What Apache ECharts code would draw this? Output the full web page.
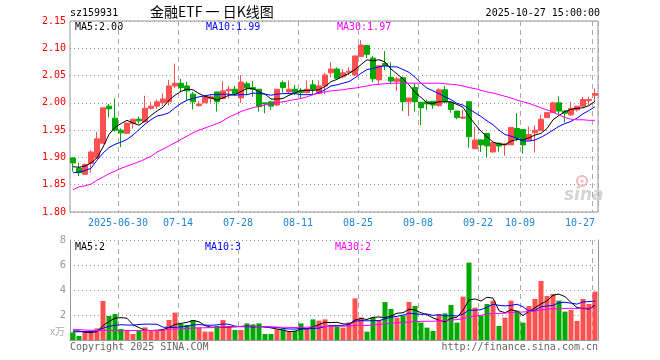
<!DOCTYPE html>
<html><head><meta charset="utf-8">
<script src="https://cdn.jsdelivr.net/npm/echarts@6/dist/echarts.min.js"></script>
<style>html,body{margin:0;padding:0;background:#fff}#c{width:660px;height:360px}</style>
</head><body><div id="c"></div>
<script>
const dates = ['2025-06-18','2025-06-19','2025-06-20','2025-06-23','2025-06-24','2025-06-25','2025-06-26','2025-06-27','2025-06-30','2025-07-01',
'2025-07-02','2025-07-03','2025-07-04','2025-07-07','2025-07-08','2025-07-09','2025-07-10','2025-07-11','2025-07-14','2025-07-15',
'2025-07-16','2025-07-17','2025-07-18','2025-07-21','2025-07-22','2025-07-23','2025-07-24','2025-07-25','2025-07-28','2025-07-29',
'2025-07-30','2025-07-31','2025-08-01','2025-08-04','2025-08-05','2025-08-06','2025-08-07','2025-08-08','2025-08-11','2025-08-12',
'2025-08-13','2025-08-14','2025-08-15','2025-08-18','2025-08-19','2025-08-20','2025-08-21','2025-08-22','2025-08-25','2025-08-26',
'2025-08-27','2025-08-28','2025-08-29','2025-09-01','2025-09-02','2025-09-03','2025-09-04','2025-09-05','2025-09-08','2025-09-09',
'2025-09-10','2025-09-11','2025-09-12','2025-09-15','2025-09-16','2025-09-17','2025-09-18','2025-09-19','2025-09-22','2025-09-23',
'2025-09-24','2025-09-25','2025-09-26','2025-09-29','2025-09-30','2025-10-09','2025-10-10','2025-10-13','2025-10-14','2025-10-15',
'2025-10-16','2025-10-17','2025-10-20','2025-10-21','2025-10-22','2025-10-23','2025-10-24','2025-10-27'];
const tickIdx = [8,18,28,38,48,58,68,75,87];
const tickText = ['2025-06-30','07-14','07-28','08-11','08-25','09-08','09-22','10-09','10-27'];

const openP = [1.899,1.880,1.869,1.889,1.899,1.926,1.994,1.972,1.950,1.944,
1.962,1.970,1.965,1.990,1.994,2.000,2.002,2.031,2.036,2.031,
2.016,1.995,2.000,2.008,2.020,2.008,2.022,2.025,2.009,2.035,
2.028,2.025,2.000,2.002,1.996,2.037,2.020,2.025,2.022,2.019,
2.033,2.017,2.031,2.055,2.062,2.048,2.056,2.051,2.085,2.105,
2.082,2.042,2.072,2.047,2.039,2.046,2.002,2.028,2.001,2.002,
2.003,1.995,2.024,2.001,1.985,1.972,2.002,1.916,1.932,1.944,
1.910,1.926,1.923,1.923,1.953,1.951,1.932,1.945,1.949,1.973,
1.982,2.000,1.985,1.978,1.987,1.994,2.004,2.014];
const closeP = [1.890,1.872,1.887,1.910,1.934,1.991,1.989,1.950,1.945,1.963,
1.970,1.967,1.990,1.994,2.002,2.007,2.031,2.036,2.028,2.022,
2.002,1.998,2.011,2.011,2.002,2.022,2.025,2.017,2.038,2.027,
2.025,1.993,1.998,1.994,2.025,2.028,2.025,2.019,2.019,2.025,
2.025,2.031,2.051,2.062,2.045,2.055,2.058,2.086,2.106,2.089,
2.044,2.068,2.068,2.040,2.044,2.002,2.009,2.002,1.991,1.998,
1.996,2.024,2.002,1.988,1.973,1.974,1.938,1.932,1.923,1.921,
1.927,1.921,1.925,1.955,1.935,1.923,1.942,1.950,1.970,1.982,
2.000,1.985,1.981,1.990,1.994,2.006,2.006,2.017];
const lowP = [1.874,1.866,1.869,1.872,1.899,1.926,1.973,1.947,1.919,1.944,
1.953,1.962,1.965,1.988,1.989,1.994,1.995,2.027,2.020,2.005,
1.988,1.993,2.000,2.000,1.984,2.008,2.008,2.014,2.000,2.014,
2.011,1.984,1.981,1.987,1.994,2.019,2.017,2.014,2.008,2.017,
2.014,2.017,2.016,2.047,2.045,2.045,2.051,2.050,2.085,2.082,
2.038,2.033,2.060,2.034,2.022,1.985,1.976,1.984,1.959,1.987,
1.989,1.993,1.999,1.982,1.970,1.971,1.918,1.915,1.910,1.901,
1.909,1.910,1.903,1.923,1.930,1.907,1.932,1.909,1.949,1.973,
1.982,1.978,1.964,1.976,1.984,1.993,1.996,2.003];
const highP = [1.900,1.890,1.889,1.913,1.947,1.991,1.998,2.008,1.953,1.963,
1.971,1.975,2.013,2.002,2.006,2.017,2.042,2.072,2.044,2.039,
2.020,2.003,2.014,2.014,2.020,2.040,2.031,2.031,2.051,2.039,
2.040,2.025,2.000,2.002,2.025,2.041,2.041,2.033,2.027,2.041,
2.042,2.041,2.055,2.074,2.065,2.062,2.065,2.086,2.115,2.105,
2.086,2.068,2.095,2.074,2.048,2.048,2.009,2.036,2.001,2.006,
2.003,2.027,2.031,2.001,1.985,1.987,2.002,1.956,1.933,1.944,
1.927,1.927,1.926,1.955,1.981,1.951,1.956,1.959,1.978,1.982,
2.002,2.012,1.987,2.002,1.994,2.011,2.011,2.026];
const ma5P = [1.883,1.882,1.884,1.890,1.899,1.919,1.942,1.955,1.962,1.968,
1.963,1.959,1.967,1.977,1.985,1.992,2.005,2.014,2.021,2.025,
2.024,2.017,2.012,2.009,2.005,2.009,2.014,2.015,2.021,2.026,
2.026,2.020,2.016,2.007,2.007,2.008,2.014,2.018,2.023,2.023,
2.023,2.024,2.030,2.039,2.043,2.049,2.054,2.061,2.070,2.079,
2.077,2.079,2.075,2.062,2.053,2.044,2.033,2.019,2.010,2.000,
1.999,2.002,2.002,2.002,1.997,1.992,1.975,1.961,1.948,1.938,
1.928,1.925,1.923,1.930,1.933,1.932,1.936,1.941,1.944,1.953,
1.969,1.977,1.984,1.988,1.990,1.991,1.995,2.003];
const ma10P = [1.872,1.873,1.876,1.880,1.895,1.908,1.918,1.924,1.928,1.933,
1.941,1.951,1.961,1.969,1.976,1.978,1.982,1.991,1.999,2.005,
2.008,2.011,2.013,2.015,2.015,2.016,2.016,2.014,2.015,2.015,
2.018,2.017,2.016,2.014,2.016,2.017,2.017,2.017,2.015,2.015,
2.015,2.019,2.024,2.031,2.033,2.036,2.039,2.046,2.054,2.061,
2.063,2.066,2.068,2.066,2.066,2.061,2.056,2.047,2.036,2.027,
2.022,2.017,2.011,2.006,1.999,1.996,1.989,1.982,1.975,1.967,
1.960,1.950,1.942,1.939,1.935,1.930,1.930,1.932,1.937,1.943,
1.950,1.957,1.962,1.966,1.972,1.980,1.986,1.993];
const ma30P = [1.841,1.846,1.848,1.851,1.858,1.864,1.870,1.875,1.880,1.884,
1.888,1.892,1.897,1.902,1.910,1.915,1.921,1.927,1.933,1.939,
1.945,1.950,1.954,1.958,1.962,1.967,1.974,1.979,1.984,1.988,
1.991,1.994,1.996,1.998,2.000,2.002,2.004,2.006,2.008,2.011,
2.015,2.018,2.020,2.022,2.023,2.024,2.026,2.027,2.029,2.031,
2.033,2.034,2.035,2.036,2.036,2.036,2.036,2.036,2.036,2.036,
2.036,2.036,2.035,2.034,2.033,2.031,2.028,2.026,2.023,2.020,
2.018,2.015,2.012,2.009,2.005,2.002,1.999,1.995,1.991,1.987,
1.983,1.978,1.973,1.970,1.969,1.969,1.968,1.968];

const vol = [0.61,0.32,0.72,0.72,0.93,3.12,1.92,2.08,0.88,0.72,
0.48,0.80,1.01,0.80,0.80,0.80,1.60,2.19,1.28,1.20,
1.60,1.01,0.67,0.67,1.12,1.60,1.12,0.80,0.80,1.33,
1.25,1.33,0.48,0.48,0.85,0.85,0.67,0.72,1.33,0.91,
1.65,1.55,1.65,1.20,1.07,0.99,1.41,3.33,1.81,0.67,
1.81,1.60,3.04,2.48,1.79,1.97,3.04,2.72,1.39,0.99,
0.72,2.08,2.13,2.80,1.39,3.47,6.19,2.59,1.95,2.88,
3.15,1.12,1.79,3.15,2.35,1.39,2.72,3.28,4.72,3.52,
3.68,3.15,2.27,2.40,1.52,3.28,2.88,3.87];
const volMa5 = [0.72,0.72,0.62,0.60,0.66,1.16,1.48,1.75,1.79,1.74,
1.22,0.99,0.78,0.76,0.78,0.84,1.00,1.24,1.33,1.41,
1.57,1.46,1.15,1.03,1.01,1.01,1.04,1.06,1.09,1.13,
1.06,1.10,1.04,0.97,0.88,0.80,0.67,0.71,0.88,0.90,
1.06,1.23,1.42,1.39,1.42,1.29,1.26,1.60,1.72,1.64,
1.81,1.84,1.79,1.92,2.14,2.18,2.46,2.40,2.18,2.02,
1.77,1.58,1.46,1.74,1.82,2.37,3.20,3.29,3.12,3.42,
3.35,2.34,2.18,2.42,2.31,1.96,2.28,2.58,2.89,3.13,
3.58,3.67,3.47,3.00,2.60,2.52,2.47,2.79];
const volMa10 = [0.66,0.66,0.68,0.70,0.72,0.95,1.10,1.18,1.22,1.20,
1.19,1.24,1.27,1.27,1.26,1.03,1.00,1.01,1.05,1.10,
1.21,1.23,1.20,1.18,1.21,1.29,1.25,1.11,1.06,1.07,
1.04,1.07,1.05,1.03,1.00,0.93,0.88,0.88,0.93,0.89,
0.93,0.95,1.07,1.14,1.16,1.17,1.25,1.51,1.56,1.53,
1.55,1.55,1.69,1.82,1.89,1.99,2.15,2.09,2.05,2.08,
1.97,2.02,1.93,1.96,1.92,2.07,2.39,2.38,2.43,2.62,
2.86,2.77,2.73,2.77,2.86,2.66,2.31,2.38,2.66,2.72,
2.77,2.98,3.02,2.95,2.87,3.05,3.07,3.13];
const volMa30 = [0.85,0.83,0.80,0.78,0.76,0.76,0.76,0.76,0.76,0.76,
0.76,0.76,0.76,0.76,0.76,0.78,0.85,0.88,0.90,0.92,
0.95,0.97,0.98,0.99,1.00,1.03,1.05,1.06,1.08,1.12,
1.10,1.08,1.06,1.04,1.03,1.02,1.01,1.00,1.01,1.02,
1.04,1.06,1.08,1.09,1.10,1.11,1.12,1.16,1.16,1.16,
1.20,1.24,1.30,1.35,1.38,1.41,1.45,1.47,1.49,1.50,
1.50,1.53,1.56,1.60,1.63,1.70,1.85,1.92,1.97,2.08,
2.13,2.12,2.15,2.20,2.23,2.24,2.28,2.32,2.40,2.47,
2.50,2.52,2.52,2.54,2.52,2.55,2.56,2.58];

const UP = '#ff5050', DOWN = '#00a800';
const MONO = 'DejaVu Sans Mono';
const FRAME = { show: true, lineStyle: { color: '#999', width: 1 } };
const candles = dates.map((d, i) => [openP[i], closeP[i], lowP[i], highP[i]]);
const isTick = (i) => tickIdx.indexOf(i) >= 0;
const dashed = { show: true, interval: (i) => isTick(i), lineStyle: { color: '#aaa', width: 1, type: [5, 4] } };

const chart = echarts.init(document.getElementById('c'), null, { renderer: 'canvas' });
function txt(text, x, y, color, opts) {
  return Object.assign({ type: 'text', x: x, y: y, silent: true,
    style: Object.assign({ text: text, fill: color, font: '10px ' + MONO, align: 'left', verticalAlign: 'middle' }, opts || {}) });
}
chart.setOption({
  animation: false,
  backgroundColor: '#fff',
  grid: [
    { left: 70, top: 21, width: 528, height: 191, show: true, borderColor: '#999', borderWidth: 1, backgroundColor: 'transparent' },
    { left: 70, top: 240, width: 528, height: 100, show: false }
  ],
  xAxis: [
    { type: 'category', gridIndex: 0, data: dates, boundaryGap: true,
      axisLine: { show: false }, axisTick: { show: false },
      axisLabel: { interval: (i) => isTick(i), margin: 6,
        formatter: (v, i) => { const k = tickIdx.indexOf(i); if (k < 0) return ''; return (i === 87 ? '{b|' : '{a|') + tickText[k] + '}'; },
        rich: { a: { color: '#1c86d6', fontFamily: MONO, fontSize: 10, padding: [0, 6, 0, 0] },
                b: { color: '#1c86d6', fontFamily: MONO, fontSize: 10, padding: [0, 30, 0, 0] } } },
      splitLine: dashed },
    { type: 'category', gridIndex: 1, data: dates, boundaryGap: true,
      axisLine: { show: false }, axisTick: { show: false }, axisLabel: { show: false },
      splitLine: dashed },
    { type: 'category', gridIndex: 1, data: dates, boundaryGap: true, position: 'top',
      axisLine: FRAME, axisTick: { show: false }, axisLabel: { show: false }, splitLine: { show: false } }
  ],
  yAxis: [
    { type: 'value', gridIndex: 0, min: 1.8, max: 2.15, interval: 0.05,
      axisLine: { show: false }, axisTick: { show: false },
      axisLabel: { color: '#ff0000', fontFamily: MONO, fontSize: 10, margin: 4, formatter: (v) => v.toFixed(2) },
      splitLine: { lineStyle: { color: '#999', type: [1, 3] } } },
    { type: 'value', gridIndex: 1, min: 0, max: 8, interval: 2,
      axisLine: FRAME, axisTick: { show: false },
      axisLabel: { color: '#999', fontFamily: 'DejaVu Sans', fontSize: 10, margin: 4, formatter: (v) => v === 0 ? '' : String(v) },
      splitLine: { lineStyle: { color: '#999', type: [1, 3] } } },
    { type: 'value', gridIndex: 1, min: 0, max: 8, interval: 2, position: 'right',
      axisLine: FRAME, axisTick: { show: false }, axisLabel: { show: false }, splitLine: { show: false } }
  ],
  series: [
    { type: 'candlestick', xAxisIndex: 0, yAxisIndex: 0, data: candles, barWidth: 5,
      itemStyle: { color: UP, color0: DOWN, borderColor: UP, borderColor0: DOWN, borderWidth: 1 } },
    { type: 'line', xAxisIndex: 0, yAxisIndex: 0, data: ma5P, showSymbol: false, z: 5, lineStyle: { color: '#000', width: 1 } },
    { type: 'line', xAxisIndex: 0, yAxisIndex: 0, data: ma10P, showSymbol: false, z: 5, lineStyle: { color: '#0000ff', width: 1 } },
    { type: 'line', xAxisIndex: 0, yAxisIndex: 0, data: ma30P, showSymbol: false, z: 5, lineStyle: { color: '#ff00ff', width: 1 } },
    { type: 'bar', xAxisIndex: 1, yAxisIndex: 1, data: vol, barWidth: 5,
      itemStyle: { color: (p) => closeP[p.dataIndex] >= openP[p.dataIndex] ? UP : DOWN } },
    { type: 'line', xAxisIndex: 1, yAxisIndex: 1, data: volMa5, showSymbol: false, z: 5, lineStyle: { color: '#000', width: 1 } },
    { type: 'line', xAxisIndex: 1, yAxisIndex: 1, data: volMa10, showSymbol: false, z: 5, lineStyle: { color: '#0000ff', width: 1 } },
    { type: 'line', xAxisIndex: 1, yAxisIndex: 1, data: volMa30, showSymbol: false, z: 5, lineStyle: { color: '#ff00ff', width: 1 } }
  ],
  graphic: [
    txt('sz159931', 70, 13, '#000'),
    txt('金融ETF 一 日K线图', 150, 12, '#000', { font: '14px "Noto Sans CJK SC"' }),
    txt('2025-10-27 15:00:00', 600, 13, '#000', { align: 'right' }),
    txt('MA5:2.00', 75, 27, '#000'),
    txt('MA10:1.99', 206, 27, '#0000ff'),
    txt('MA30:1.97', 337, 27, '#ff00ff'),
    txt('MA5:2', 75, 247, '#000'),
    txt('MA10:3', 205, 247, '#0000ff'),
    txt('MA30:2', 335, 247, '#ff00ff'),
    txt('x万', 65, 331, '#aaa', { align: 'right', font: '10px "Noto Sans CJK SC"' }),
    txt('Copyright 2025 SINA.COM', 70, 347, '#666'),
    txt('http://finance.sina.com.cn', 598, 347, '#666', { align: 'right' }),
    { type: 'circle', shape: { cx: 582, cy: 181, r: 5 }, silent: true, style: { fill: 'none', stroke: '#f5b8b8', lineWidth: 2 } },
    { type: 'circle', shape: { cx: 582, cy: 181, r: 1.5 }, silent: true, style: { fill: '#f5b8b8' } },
    txt('sina', 564, 196, '#d4d4d4', { font: 'italic bold 17px "DejaVu Sans"' })
  ]
});
</script></body></html>
